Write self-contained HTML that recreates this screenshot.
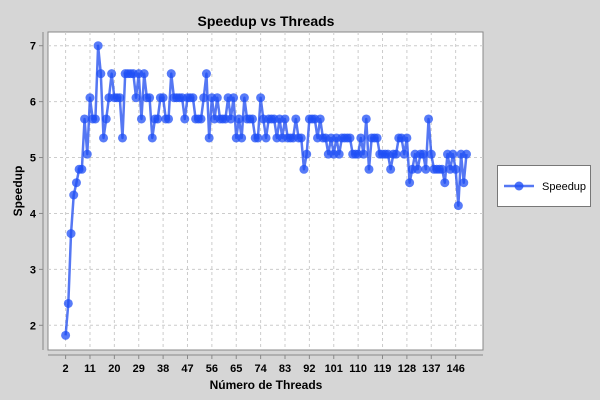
<!DOCTYPE html>
<html><head><meta charset="utf-8"><style>
body{margin:0;background:#d6d6d6;}
svg{display:block;font-family:"Liberation Sans",sans-serif;}
</style></head><body>
<svg id="chart" width="600" height="400">
<rect x="0" y="0" width="600" height="400" fill="#d6d6d6"/>
<text x="266" y="26" text-anchor="middle" font-size="14" font-weight="bold" fill="#000">Speedup vs Threads</text>
<rect x="48" y="32" width="435" height="318" fill="#fff" stroke="#888" stroke-width="1"/>
<g id="grid"></g>
<g id="axes"></g>
<g id="series"></g>
<text transform="translate(22,191) rotate(-90)" text-anchor="middle" font-size="12" font-weight="bold">Speedup</text>
<text x="266" y="389" text-anchor="middle" font-size="12" font-weight="bold">Número de Threads</text>
<g>
<rect x="497.5" y="165.5" width="93" height="41" fill="#fff" stroke="#777"/>
<line x1="504" y1="186" x2="534" y2="186" stroke="#2a55f0" stroke-opacity="0.8" stroke-width="2.5"/>
<circle cx="519" cy="186" r="4.5" fill="#1f4ff5" fill-opacity="0.8"/>
<text x="542" y="190" font-size="11">Speedup</text>
</g>
</svg>
<script>
const speedupValues=[1.82,2.39,3.64,4.33,4.55,4.79,4.79,5.69,5.06,6.07,5.69,5.69,7,6.5,5.35,5.69,6.07,6.5,6.07,6.07,6.07,5.35,6.5,6.5,6.5,6.5,6.07,6.5,5.69,6.5,6.07,6.07,5.35,5.69,5.69,6.07,6.07,5.69,5.69,6.5,6.07,6.07,6.07,6.07,5.69,6.07,6.07,
6.07,5.69,5.69,5.69,6.07,6.5,5.35,6.07,5.69,6.07,5.69,5.69,5.69,6.07,5.69,6.07,5.35,5.69,5.35,6.07,5.69,5.69,5.69,5.35,5.35,6.07,5.69,5.35,5.69,5.69,5.69,5.35,5.69,5.35,5.69,5.35,
5.35,5.35,5.69,5.35,5.35,4.79,5.06,5.69,5.69,5.69,5.35,5.69,5.35,5.35,5.06,5.35,5.06,5.35,5.06,5.35,5.35,5.35,5.35,5.06,5.06,5.06,5.35,5.06,5.69,4.79,5.35,5.35,5.35,5.06,5.06,
5.06,5.06,4.79,5.06,5.06,5.35,5.35,5.06,5.35,4.55,4.79,5.06,4.79,5.06,5.06,4.79,5.69,5.06,4.79,4.79,4.79,4.79,4.55,5.06,4.79,5.06,4.79,4.14,5.06,4.55,5.06];
const firstThread=2;
const xTickLabels=[2,11,20,29,38,47,56,65,74,83,92,101,110,119,128,137,146];
const yTickLabels=[2,3,4,5,6,7];
const NS="http://www.w3.org/2000/svg";
const X0=48,X1=483,Y0=32,Y1=350,xMin=-4.5,xMax=156.1,yMin=1.558,yMax=7.245;
function xs(t){return X0+(t-xMin)/(xMax-xMin)*(X1-X0);}
function ys(v){return Y1-(v-yMin)/(yMax-yMin)*(Y1-Y0);}
function mk(tag,attrs,parent){const e=document.createElementNS(NS,tag);for(const k in attrs)e.setAttribute(k,attrs[k]);parent.appendChild(e);return e;}
const grid=document.getElementById('grid'),axes=document.getElementById('axes'),series=document.getElementById('series');
mk('line',{x1:43,y1:Y0,x2:43,y2:Y1,stroke:'#888'},axes);
mk('line',{x1:X0,y1:355,x2:X1,y2:355,stroke:'#888'},axes);
xTickLabels.forEach(t=>{const x=xs(t);
 mk('line',{x1:x,y1:Y0,x2:x,y2:Y1,stroke:'#ccc','stroke-dasharray':'3,3'},grid);
 mk('line',{x1:x,y1:355,x2:x,y2:359,stroke:'#888'},axes);
 const tx=mk('text',{x:x,y:372,'text-anchor':'middle','font-size':'11','font-weight':'bold'},axes);
 tx.textContent=t;
 
 
});
yTickLabels.forEach(v=>{const y=ys(v);
 mk('line',{x1:X0,y1:y,x2:X1,y2:y,stroke:'#ccc','stroke-dasharray':'3,3'},grid);
 mk('line',{x1:39,y1:y,x2:43,y2:y,stroke:'#888'},axes);
 const tx=mk('text',{x:36,y:y+4,'text-anchor':'end','font-size':'11','font-weight':'bold'},axes);
 tx.textContent=v;
 
 
});
const pts=speedupValues.map((v,i)=>[xs(firstThread+i),ys(v)]);
const pl=mk('polyline',{points:pts.map(p=>p.join(',')).join(' '),fill:'none',stroke:'#2a55f0','stroke-opacity':'0.8','stroke-width':'2.5','stroke-linejoin':'round'},series);


pts.forEach(p=>{const c=mk('circle',{cx:p[0],cy:p[1],r:4.5,fill:'#1f4ff5','fill-opacity':'0.75'},series);
 
 
});
</script>
</body></html>
